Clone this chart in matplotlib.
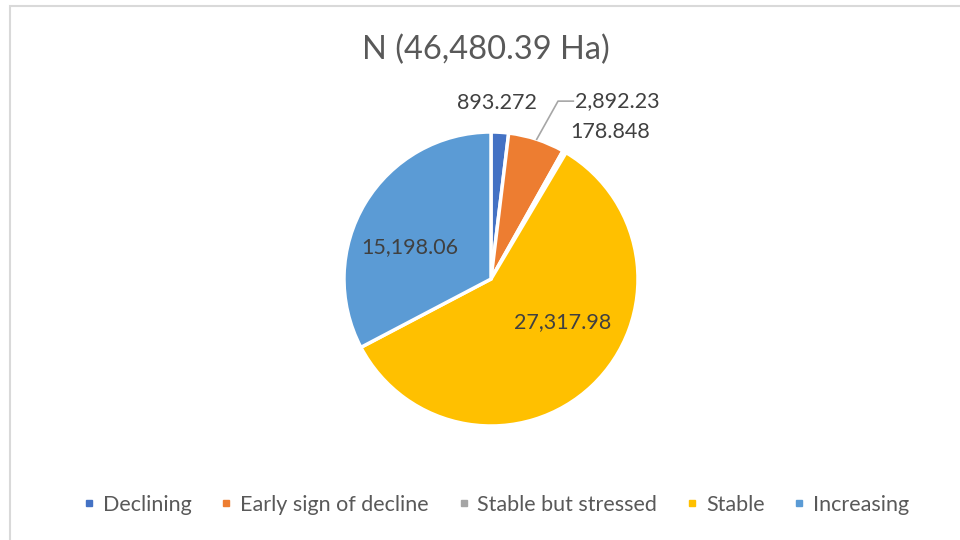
import numpy as np
import matplotlib.pyplot as plt
from matplotlib.lines import Line2D
from matplotlib.patches import Rectangle

plt.rcParams['font.family'] = ['Lato', 'DejaVu Sans']

titulo = "N (46,480.39 Ha)"
categorias = ["Declining", "Early sign of decline", "Stable but stressed", "Stable", "Increasing"]
valores = [893.272, 2892.23, 178.848, 27317.98, 15198.06]
rotulos = ["893.272", "2,892.23", "178.848", "27,317.98", "15,198.06"]
cores = ["#4472C4", "#ED7D31", "#A5A5A5", "#FFC000", "#5B9BD5"]

# posicao dos rotulos em unidades do raio (estilo Excel)
pos_rotulos = [(0.041, 1.20, 'center'), (0.571, 1.21, 'left'), (0.537, 1.0, 'left'),
               (0.49, -0.29, 'center'), (-0.55, 0.22, 'center')]

fig = plt.figure(figsize=(9.6, 5.4), dpi=100)

# moldura cinza do grafico (sai pela direita e por baixo)
fig.patches.append(Rectangle((10 / 960, -0.1), 1.2, (540 - 6) / 540 + 0.1,
                             transform=fig.transFigure, fill=False,
                             edgecolor='#D9D9D9', linewidth=1.5))

cx, cy, R, s = 491, 279, 147, 1.5
ax = fig.add_axes([(cx - R * s) / 960, (540 - cy - R * s) / 540, 2 * R * s / 960, 2 * R * s / 540])

wedges, _ = ax.pie(valores, colors=cores, startangle=90, counterclock=False,
                   wedgeprops=dict(edgecolor='white', linewidth=2.5))
ax.set_xlim(-s, s)
ax.set_ylim(-s, s)
ax.set_aspect('auto')
ax.axis('off')

for txt, (x, y, ha) in zip(rotulos, pos_rotulos):
    ax.text(x, y, txt, ha=ha, va='center', fontsize=15.5, color='#404040')

# linha guia da fatia "Early sign of decline"
w = wedges[1]
ang = np.deg2rad((w.theta1 + w.theta2) / 2)
ax.plot([np.cos(ang), 0.456, 0.56], [np.sin(ang), 1.21, 1.21], color='#A6A6A6', linewidth=1.2)

fig.text(0.5 + 6 / 960, (540 - 50) / 540, titulo, ha='center', va='center', fontsize=23.5, color='#595959')

handles = [Line2D([], [], marker='s', linestyle='', color=c, markersize=5) for c in cores]
fig.legend(handles, categorias, loc='center', bbox_to_anchor=(0.516, 35 / 540), ncol=5,
           frameon=False, fontsize=15.5, labelcolor='#595959', handlelength=0.7,
           handletextpad=0.3, columnspacing=1.25)

plt.savefig("out.png", dpi=100, facecolor='white')
